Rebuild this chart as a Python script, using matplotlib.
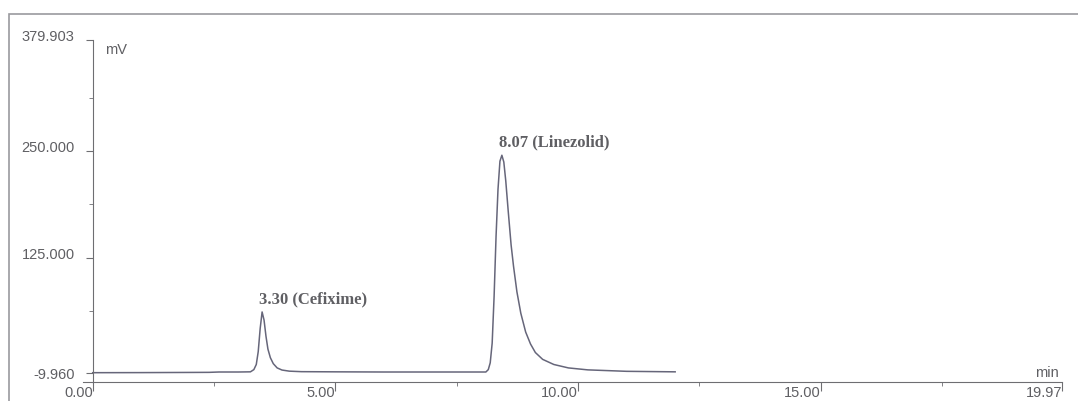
import matplotlib.pyplot as plt
import matplotlib.transforms as mtransforms
from matplotlib.patches import Rectangle

# chromatogram trace (time in min, signal in mV)
time_min = [0.0, 1.0, 2.0, 2.4, 2.6, 3.0, 3.25, 3.32, 3.37, 3.41, 3.45, 3.49,
            3.53, 3.57, 3.61, 3.66, 3.72, 3.80, 3.90, 4.05, 4.3, 5.0, 6.0,
            7.0, 7.8, 8.10, 8.15, 8.19, 8.23, 8.27, 8.31, 8.35, 8.39, 8.43,
            8.47, 8.51, 8.56, 8.62, 8.67, 8.74, 8.82, 8.92, 9.02, 9.12, 9.27,
            9.5, 9.8, 10.2, 11.0, 12.0]
signal_mv = [-9.6, -9.5, -9.3, -9.2, -8.8, -8.8, -8.6, -6, 0, 15, 42, 61.5,
             52, 33, 18, 8, 1, -4, -6.5, -7.8, -8.4, -8.6, -8.8,
             -8.8, -8.8, -8.8, -6, 2, 25, 80, 150, 205, 238, 245,
             237, 215, 180, 140, 115, 85, 60, 38, 24, 14, 6,
             0, -4, -6.3, -8, -8.6]

peak_times = [3.49, 8.43]
peak_heights = [61.5, 245]
peak_labels = ['3.30 (Cefixime)', '8.07 (Linezolid)']

y_ticks = [-9.960, 125.000, 250.000, 379.903]
y_tick_labels = ['-9.960', '125.000', '250.000', '379.903']
y_minor = [62.5, 187.5, 312.5]
x_ticks = [0.0, 5.0, 10.0, 15.0, 19.97]
x_tick_labels = ['0.00', '5.00', '10.00', '15.00', '19.97']
x_minor = [2.5, 7.5, 12.5, 17.5]

W, H = 1078, 402
fig = plt.figure(figsize=(W / 100, H / 100), dpi=100)
ax = fig.add_axes([83 / W, (H - 383) / H, (1062 - 83) / W, (383 - 41) / H])

axis_col = '#6e6e72'
text_col = '#5f5f63'
line_col = '#66667a'

ax.plot(time_min, signal_mv, color=line_col, lw=1.1)

for t, h, lab in zip(peak_times, peak_heights, peak_labels):
    ax.annotate(lab, (t, h), xytext=(-2, 4), textcoords='offset points',
                ha='left', va='bottom', fontsize=12, family='Liberation Serif',
                fontweight='bold', color=text_col)

ax.set_xlim(-0.2, 19.97)
ax.set_ylim(-20.5, 379.903)

for s in ['top', 'right']:
    ax.spines[s].set_visible(False)
ax.spines['left'].set_position(('data', 0))
ax.spines['left'].set_color(axis_col)
ax.spines['bottom'].set_color(axis_col)

ax.set_yticks(y_ticks)
ax.set_yticklabels(y_tick_labels)
ax.set_yticks(y_minor, minor=True)
ax.set_xticks(x_ticks)
ax.set_xticklabels(x_tick_labels)
ax.set_xticks(x_minor, minor=True)

ax.tick_params(axis='y', which='major', direction='out', length=5, pad=8,
               colors=axis_col, labelcolor=text_col, labelsize=10.5)
ax.tick_params(axis='y', which='minor', direction='out', length=3, colors=axis_col)
ax.tick_params(axis='x', which='major', direction='out', length=6.5, pad=-4,
               colors=axis_col, labelcolor=text_col, labelsize=10.5)
ax.tick_params(axis='x', which='minor', direction='out', length=3, colors=axis_col)

for lab in ax.get_xticklabels():
    lab.set_ha('right')
    lab.set_family('Liberation Sans')
up = mtransforms.ScaledTranslation(0, 4 / 72, fig.dpi_scale_trans)
for lab in ax.get_yticklabels()[1:]:
    lab.set_transform(lab.get_transform() + up)
for lab in ax.get_yticklabels():
    lab.set_family('Liberation Sans')

ax.text(0.25, 0.995, 'mV', transform=ax.get_xaxis_transform(), ha='left', va='top',
        fontsize=10.5, family='Liberation Sans', color=text_col)
ax.text(19.9, 0.01, 'min', transform=ax.get_xaxis_transform(), ha='right', va='bottom',
        fontsize=10.5, family='Liberation Sans', color=text_col)

# outer frame of the scanned page
fig.patches.append(Rectangle((9 / W, -0.1), 1.2, (H - 15) / H + 0.1,
                             transform=fig.transFigure, fill=False,
                             edgecolor='#9a9a9e', lw=1.2))

fig.savefig('out.png', dpi=100)
